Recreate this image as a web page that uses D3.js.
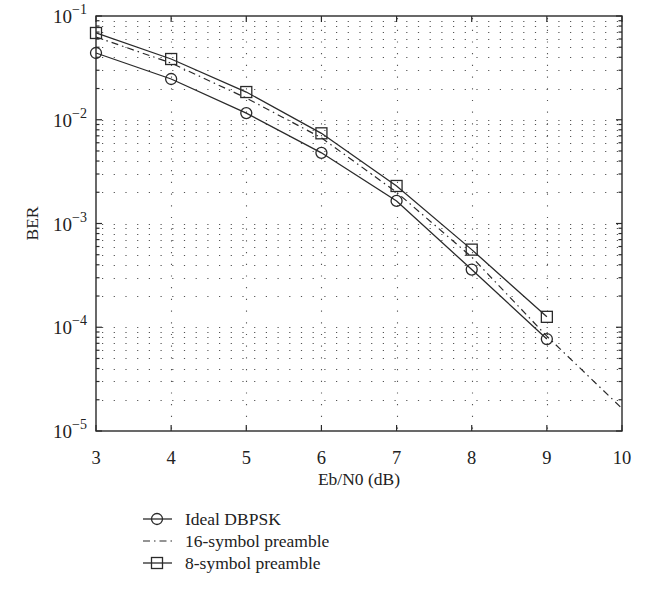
<!DOCTYPE html>
<html>
<head>
<meta charset="utf-8">
<script src="https://cdn.jsdelivr.net/npm/d3@7"></script>
<style>
  body { margin: 0; background: #fff; }
  text { font-family: "Liberation Serif", "DejaVu Serif", serif; fill: #222; }
</style>
</head>
<body>
<svg id="chart" width="646" height="594"></svg>
<script>
// data
var snr = [3, 4, 5, 6, 7, 8, 9];
var idealBer = [0.044, 0.0247, 0.0116, 0.0048, 0.00165, 0.00036, 0.000077];
var sym8Ber = [0.0686, 0.0385, 0.0185, 0.0074, 0.0023, 0.00056, 0.000126];
var snr16 = [3, 4, 5, 6, 7, 8, 9, 10];
var sym16Ber = [0.0628, 0.0352, 0.0162, 0.0067, 0.0020, 0.000475, 0.000082, 0.0000165];
var xTicks = [3, 4, 5, 6, 7, 8, 9, 10];
var yTicks = [-1, -2, -3, -4, -5];
var legendNames = ["Ideal DBPSK", "16-symbol preamble", "8-symbol preamble"];

var svg = d3.select("#chart");
// plot box (note: "top" is reserved on window, so use p-prefixed names)
var pLeft = 96, pRight = 622, pTop = 16, pBottom = 431;
var ink = "#2a2a2a";
var dots = "1.2,10.5";

var x = d3.scaleLinear().domain([3, 10]).range([pLeft, pRight]);
var y = d3.scaleLog().domain([1e-5, 1e-1]).range([pBottom, pTop]);

// grid - dotted, vertical at majors, horizontal at every minor
var minors = [];
for (var e = -5; e < -1; e++) {
    for (var m = 1; m <= 9; m++) minors.push(m * Math.pow(10, e));
}
minors.push(0.1);

svg.append("g").selectAll("line")
    .data(minors.filter(function (v) { return v > 1.01e-5 && v < 0.099; }))
    .enter().append("line")
    .attr("x1", pLeft + 6).attr("x2", pRight)
    .attr("y1", function (d) { return Math.round(y(d)) + 0.5; })
    .attr("y2", function (d) { return Math.round(y(d)) + 0.5; })
    .attr("stroke", "#555").attr("stroke-width", 1.1)
    .attr("stroke-dasharray", dots);

svg.append("g").selectAll("line")
    .data(xTicks.slice(1, -1))
    .enter().append("line")
    .attr("x1", function (d) { return Math.round(x(d)) + 0.5; })
    .attr("x2", function (d) { return Math.round(x(d)) + 0.5; })
    .attr("y1", pTop + 2).attr("y2", pBottom)
    .attr("stroke", "#555").attr("stroke-width", 1.1)
    .attr("stroke-dasharray", dots);

// box
svg.append("rect")
    .attr("x", pLeft).attr("y", pTop)
    .attr("width", pRight - pLeft).attr("height", pBottom - pTop)
    .attr("fill", "none").attr("stroke", ink).attr("stroke-width", 1.4);

// ticks inward on all 4 sides
var tk = svg.append("g").attr("stroke", ink).attr("stroke-width", 1.2);
xTicks.forEach(function (t) {
    tk.append("line").attr("x1", x(t)).attr("x2", x(t)).attr("y1", pBottom).attr("y2", pBottom - 6);
    tk.append("line").attr("x1", x(t)).attr("x2", x(t)).attr("y1", pTop).attr("y2", pTop + 6);
});
minors.forEach(function (v) {
    var isMajor = Math.abs(Math.log10(v) - Math.round(Math.log10(v))) < 1e-9;
    var len = isMajor ? 6 : 3.5;
    tk.append("line").attr("x1", pLeft).attr("x2", pLeft + len).attr("y1", y(v)).attr("y2", y(v));
    tk.append("line").attr("x1", pRight).attr("x2", pRight - len).attr("y1", y(v)).attr("y2", y(v));
});

// tick labels
svg.append("g").selectAll("text")
    .data(xTicks).enter().append("text")
    .attr("x", function (d) { return x(d); })
    .attr("y", 464)
    .attr("text-anchor", "middle")
    .attr("font-size", 18.5)
    .text(function (d) { return d; });

var yl = svg.append("g").selectAll("text")
    .data(yTicks).enter().append("text")
    .attr("x", 87)
    .attr("y", function (d) { return y(Math.pow(10, d)) + 7; })
    .attr("text-anchor", "end")
    .attr("font-size", 19);
yl.append("tspan").text("10");
yl.append("tspan")
    .attr("dy", -9).attr("font-size", 14)
    .text(function (d) { return "\u2212" + (-d); });

// axis titles
svg.append("text")
    .attr("x", (pLeft + pRight) / 2).attr("y", 485)
    .attr("text-anchor", "middle").attr("font-size", 17.5)
    .text("Eb/N0 (dB)");
svg.append("text")
    .attr("transform", "translate(38," + ((pTop + pBottom) / 2) + ") rotate(-90)")
    .attr("text-anchor", "middle").attr("font-size", 17.5)
    .text("BER");

// series
var line = d3.line()
    .x(function (d) { return x(d[0]); })
    .y(function (d) { return y(d[1]); });

var plot = svg.append("g");
plot.append("path")
    .datum(d3.zip(snr, idealBer))
    .attr("d", line).attr("fill", "none").attr("stroke", ink).attr("stroke-width", 1.3);
plot.append("path")
    .datum(d3.zip(snr16, sym16Ber))
    .attr("d", line).attr("fill", "none").attr("stroke", ink).attr("stroke-width", 1.2)
    .attr("stroke-dasharray", "7,4,1.5,4");
plot.append("path")
    .datum(d3.zip(snr, sym8Ber))
    .attr("d", line).attr("fill", "none").attr("stroke", ink).attr("stroke-width", 1.3);

plot.selectAll("circle.ideal")
    .data(d3.zip(snr, idealBer)).enter().append("circle")
    .attr("cx", function (d) { return x(d[0]); })
    .attr("cy", function (d) { return y(d[1]); })
    .attr("r", 5.5)
    .attr("fill", "none").attr("stroke", ink).attr("stroke-width", 1.3);

plot.selectAll("rect.sq")
    .data(d3.zip(snr, sym8Ber)).enter().append("rect")
    .attr("x", function (d) { return x(d[0]) - 5.5; })
    .attr("y", function (d) { return y(d[1]) - 5.5; })
    .attr("width", 11).attr("height", 11)
    .attr("fill", "none").attr("stroke", ink).attr("stroke-width", 1.3);

// legend
var lg = svg.append("g");
var ly = [519, 541, 563];
legendNames.forEach(function (name, i) {
    var yy = ly[i];
    var l = lg.append("line")
        .attr("x1", 143).attr("x2", 172).attr("y1", yy).attr("y2", yy)
        .attr("stroke", ink).attr("stroke-width", 1.3);
    if (i === 1) l.attr("stroke-dasharray", "7,4,1.5,4").attr("stroke-width", 1.1);
    if (i === 0) {
        lg.append("circle").attr("cx", 157).attr("cy", yy).attr("r", 5.5)
            .attr("fill", "none").attr("stroke", ink).attr("stroke-width", 1.3);
    }
    if (i === 2) {
        lg.append("rect").attr("x", 151.5).attr("y", yy - 5.5).attr("width", 11).attr("height", 11)
            .attr("fill", "none").attr("stroke", ink).attr("stroke-width", 1.3);
    }
    lg.append("text")
        .attr("x", 185).attr("y", yy + 6)
        .attr("font-size", 17.5)
        .text(name);
});
</script>
</body>
</html>
